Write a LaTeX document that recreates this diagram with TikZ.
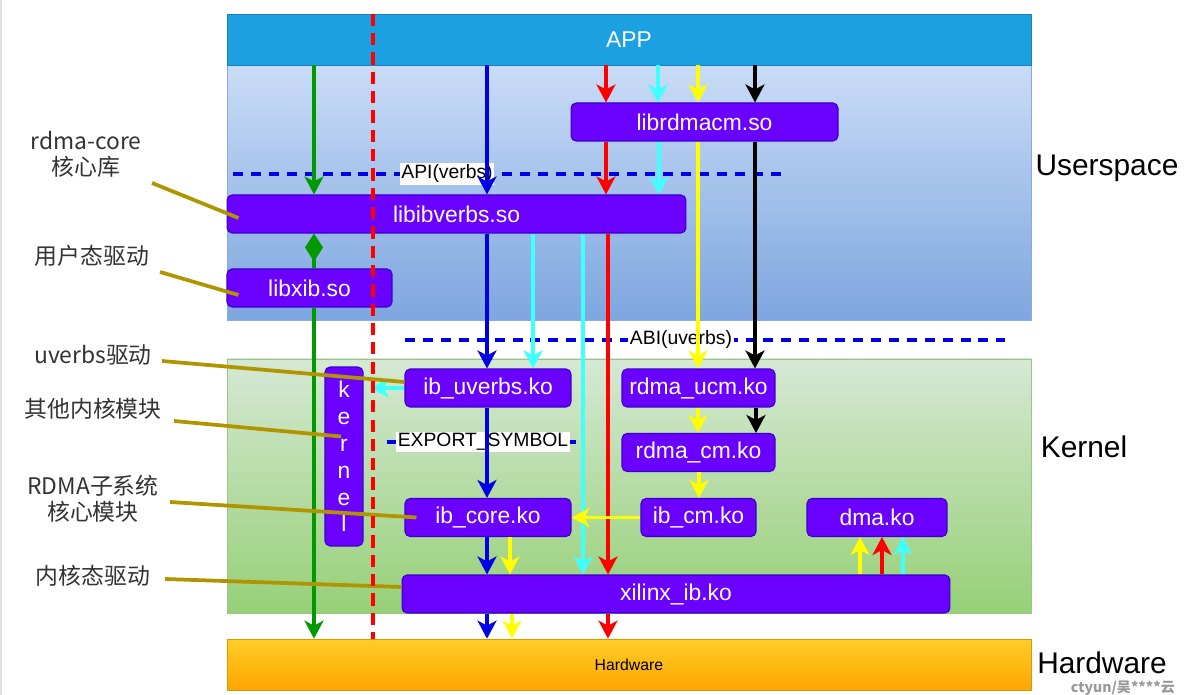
\documentclass[tikz,border=0pt]{standalone}
\usepackage{fontspec}
\setmainfont{Liberation Sans}
\newfontfamily\cjk{Noto Sans CJK SC}
\usetikzlibrary{arrows.meta}
\definecolor{appfill}{HTML}{1BA1E2}
\definecolor{appedge}{HTML}{1A7FC0}
\definecolor{usertop}{HTML}{C9DCF6}
\definecolor{userbot}{HTML}{7EA6E0}
\definecolor{useredge}{HTML}{8FA9D4}
\definecolor{kerntop}{HTML}{D5E8D4}
\definecolor{kernbot}{HTML}{97D077}
\definecolor{kernedge}{HTML}{9CC38A}
\definecolor{hwtop}{HTML}{FFCD28}
\definecolor{hwbot}{HTML}{FFA500}
\definecolor{hwedge}{HTML}{D79B00}
\definecolor{modfill}{HTML}{6A00FF}
\definecolor{modedge}{HTML}{3700CC}
\definecolor{cgreen}{HTML}{009900}
\definecolor{cblue}{HTML}{0000E6}
\definecolor{ccyan}{HTML}{40FFFF}
\definecolor{cred}{HTML}{FF0000}
\definecolor{cyellow}{HTML}{FFFF00}
\definecolor{olive}{HTML}{B09500}
\definecolor{lbltext}{HTML}{333333}
\begin{document}
\begin{tikzpicture}[x=0.02cm,y=-0.02cm,
    modbox/.style={draw=modedge,fill=modfill,rounded corners=0.1cm,text=white,
      inner sep=0pt,line width=0.6pt,minimum height=0.76cm,
      font=\fontsize{13}{15}\selectfont},
    flow/.style={line width=0.066cm,-{Stealth[length=0.36cm,width=0.38cm,inset=0.1cm]}},
    sep/.style={cblue,line width=0.066cm,dash pattern=on 5.7pt off 4.5pt},
    seplabel/.style={fill=white,inner sep=1pt,font=\fontsize{11}{13}\selectfont},
    leader/.style={olive,line width=0.075cm},
    sidelabel/.style={text=lbltext,align=center,font=\cjk\fontsize{13}{14.7}\selectfont},
    layerlabel/.style={font=\fontsize{17}{20}\selectfont}]
  \useasboundingbox (0,0) rectangle (1184,695);
  \draw[black!12,line width=0.05cm] (1,0) -- (1,695);

  % Drawing layers
  \draw[draw=useredge,top color=usertop,bottom color=userbot] (227,65) rectangle (1031,320);
  \draw[draw=kernedge,top color=kerntop,bottom color=kernbot] (227,359) rectangle (1031,613);
  \node[draw=appedge,fill=appfill,text=white,inner sep=0pt,minimum width=16.08cm,
    minimum height=1.02cm,font=\fontsize{13}{15}\selectfont] (app) at (629,39.5) {APP};
  \node[draw=hwedge,top color=hwtop,bottom color=hwbot,inner sep=0pt,minimum width=16.08cm,
    minimum height=1.02cm,font=\fontsize{9}{11}\selectfont] (hw) at (629,664.5) {Hardware};

  % Drawing modules
  \node[modbox,minimum width=5.34cm] (librdmacm) at (704.5,122) {librdmacm.so};
  \node[modbox,minimum width=9.18cm] (libibverbs) at (456.5,214) {libibverbs.so};
  \node[modbox,minimum width=3.30cm] (libxib) at (309.5,288) {libxib.so};
  \node[modbox,minimum width=3.32cm] (ibuverbs) at (488,388) {ib\_uverbs.ko};
  \node[modbox,minimum width=3.06cm] (rdmaucm) at (698.5,388) {rdma\_ucm.ko};
  \node[modbox,minimum width=3.06cm] (rdmacm) at (698.5,452.5) {rdma\_cm.ko};
  \node[modbox,minimum width=3.32cm] (ibcore) at (488,517.5) {ib\_core.ko};
  \node[modbox,minimum width=2.30cm] (ibcm) at (698.5,517.5) {ib\_cm.ko};
  \node[modbox,minimum width=2.80cm] (dma) at (877,517.5) {dma.ko};
  \node[modbox,minimum width=10.96cm] (xilinx) at (676,594) {xilinx\_ib.ko};
  \node[modbox,minimum width=0.76cm,minimum height=3.58cm,align=center,
    font=\fontsize{13}{15.3}\selectfont] (kernel) at (344,456.5) {k\\e\\r\\n\\e\\l};

  % Drawing interface lines
  \draw[sep] (233,174) -- (788,174);
  \node[seplabel] (api) at (447,174) {API(verbs)};
  \draw[sep] (405,340) -- (1005,340);
  \node[seplabel] (abi) at (681,340) {ABI(uverbs)};
  \draw[sep] (387,442) -- (580,442);
  \node[seplabel] (export) at (483,442) {EXPORT\_SYMBOL};

  % Drawing green path
  \draw[flow,cgreen] (314,0 |- app.south) -- (314,0 |- libibverbs.north);
  \draw[cgreen,line width=0.066cm,-{Diamond[length=0.56cm,width=0.36cm]}]
    (314,0 |- libxib.north) -- (314,0 |- libibverbs.south);
  \draw[flow,cgreen] (314,0 |- libxib.south) -- (314,0 |- hw.north);

  % Drawing blue path
  \draw[flow,cblue] (487,0 |- app.south) -- (487,0 |- libibverbs.north);
  \draw[flow,cblue] (487,0 |- libibverbs.south) -- (487,0 |- ibuverbs.north);
  \draw[flow,cblue] (487,0 |- ibuverbs.south) -- (487,0 |- ibcore.north);
  \draw[flow,cblue] (487,0 |- ibcore.south) -- (487,0 |- xilinx.north);
  \draw[flow,cblue] (487,0 |- xilinx.south) -- (487,0 |- hw.north);

  % Drawing cyan path
  \draw[flow,ccyan] (658,0 |- app.south) -- (658,0 |- librdmacm.north);
  \draw[flow,ccyan] (659,0 |- librdmacm.south) -- (659,0 |- libibverbs.north);
  \draw[flow,ccyan] (533,0 |- libibverbs.south) -- (533,0 |- ibuverbs.north);
  \draw[flow,ccyan] (583,0 |- libibverbs.south) -- (583,0 |- xilinx.north);
  \draw[flow,ccyan,shorten >=0.14cm] (ibuverbs.west) -- (ibuverbs.west -| kernel.east);
  \draw[flow,ccyan] (903,0 |- xilinx.north) -- (903,0 |- dma.south);

  % Drawing red path
  \draw[flow,cred] (606,0 |- app.south) -- (606,0 |- librdmacm.north);
  \draw[flow,cred] (606,0 |- librdmacm.south) -- (606,0 |- libibverbs.north);
  \draw[flow,cred] (608,0 |- libibverbs.south) -- (608,0 |- xilinx.north);
  \draw[flow,cred] (608,0 |- xilinx.south) -- (608,0 |- hw.north);
  \draw[flow,cred] (882,0 |- xilinx.north) -- (882,0 |- dma.south);

  % Drawing yellow path
  \draw[flow,cyellow] (698,0 |- app.south) -- (698,0 |- librdmacm.north);
  \draw[flow,cyellow] (698,0 |- librdmacm.south) -- (698,0 |- rdmaucm.north);
  \draw[flow,cyellow] (698,0 |- rdmaucm.south) -- (698,0 |- rdmacm.north);
  \draw[flow,cyellow] (699,0 |- rdmacm.south) -- (699,0 |- ibcm.north);
  \draw[flow,cyellow] (ibcm.west) -- (ibcore.east);
  \draw[flow,cyellow] (510,0 |- ibcore.south) -- (510,0 |- xilinx.north);
  \draw[flow,cyellow] (512,0 |- xilinx.south) -- (512,0 |- hw.north);
  \draw[flow,cyellow] (860,0 |- xilinx.north) -- (860,0 |- dma.south);

  % Drawing black path
  \draw[flow,black] (755,0 |- app.south) -- (755,0 |- librdmacm.north);
  \draw[flow,black] (755,0 |- librdmacm.south) -- (755,0 |- rdmaucm.north);
  \draw[flow,black] (756,0 |- rdmaucm.south) -- (756,0 |- rdmacm.north);

  % Marking side labels
  \node[sidelabel] (lcore) at (86,154) {rdma-core\\核心库};
  \node[sidelabel] (luser) at (92,256) {用户态驱动};
  \node[sidelabel] (luverbs) at (93,355) {uverbs驱动};
  \node[sidelabel] (lother) at (93,409) {其他内核模块};
  \node[sidelabel] (lsub) at (93,499) {RDMA子系统\\核心模块};
  \node[sidelabel] (lkdrv) at (93,576) {内核态驱动};
  \coordinate (tcore) at (152,183);
  \coordinate (tuser) at (160,272);
  \coordinate (tuverbs) at (162,361);
  \coordinate (tother) at (174,421);
  \coordinate (tsub) at (170,502);
  \coordinate (tkdrv) at (165,579);
  \draw[leader] (tcore) -- ([shift={(12,4)}]libibverbs.west);
  \draw[leader] (tuser) -- ([shift={(12,7)}]libxib.west);
  \draw[leader] (tuverbs) -- ([shift={(0,-6)}]ibuverbs.west);
  \draw[leader] (tother) -- ([shift={(-3,-20)}]kernel.center);
  \draw[leader] (tsub) -- ([shift={(12,0)}]ibcore.west);
  \draw[leader] (tkdrv) -- ([shift={(0,-7)}]xilinx.west);

  % Drawing user/kernel boundary
  \draw[cred,line width=0.066cm,dash pattern=on 7pt off 4pt] (373,0 |- app.north) -- (373,0 |- hw.north);

  % Marking layer names
  \node[layerlabel] (luserspace) at (1107,168) {Userspace};
  \node[layerlabel] (lkernel) at (1084,447) {Kernel};
  \node[layerlabel] (lhardware) at (1102,663) {Hardware};
  \node[text=black!40,font=\cjk\bfseries\fontsize{8}{9}\selectfont,anchor=east] (mark) at (1181,688) {ctyun/吴****云};
\end{tikzpicture}
\end{document}
